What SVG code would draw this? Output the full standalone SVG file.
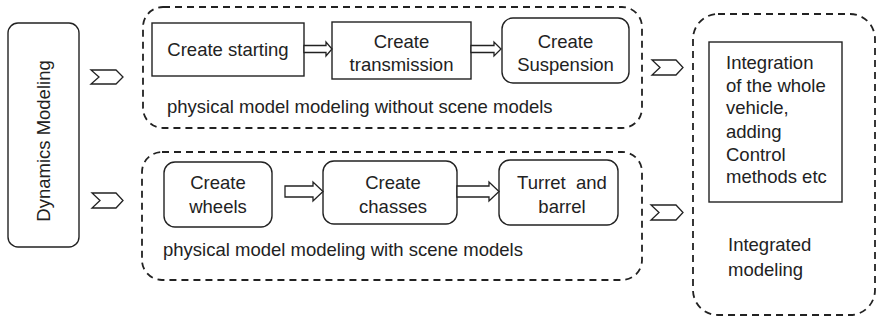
<svg xmlns="http://www.w3.org/2000/svg" width="877" height="321" viewBox="0 0 877 321">
<style>
text{font-family:"Liberation Sans",Arial,sans-serif;font-size:18.5px;fill:#222}
.c{text-anchor:middle}
.box{fill:#fff;stroke:#222;stroke-width:1.4}
.grp{fill:none;stroke:#222;stroke-width:1.8;stroke-dasharray:7 5}
.arr{fill:#fff;stroke:#222;stroke-width:1.3;stroke-linejoin:miter}
</style>
<rect width="877" height="321" fill="#fff"/>
<g id="group-top"><rect class="grp" x="143" y="7" width="499" height="121" rx="20"/>
<text x="167" y="113">physical model modeling without scene models</text></g>
<g id="group-bottom"><rect class="grp" x="142" y="152" width="500" height="128" rx="20"/>
<text x="163" y="256">physical model modeling with scene models</text></g>
<g id="group-integrated"><rect class="grp" x="693" y="14" width="182" height="301" rx="25"/>
<text x="728" y="251">Integrated</text>
<text x="728" y="276">modeling</text></g>
<g id="dynamics"><rect class="box" x="8" y="23" width="71" height="224" rx="10"/>
<text class="c" transform="translate(49.5,141) rotate(-90)">Dynamics Modeling</text></g>
<g id="starting"><rect class="box" x="152" y="23" width="152" height="53"/>
<text class="c" x="228" y="56">Create starting</text></g>
<g id="transmission"><rect class="box" x="332" y="22" width="139" height="57"/>
<text class="c" x="401.5" y="48">Create</text><text class="c" x="401.5" y="71">transmission</text></g>
<g id="suspension"><rect class="box" x="502" y="18" width="127" height="65" rx="11"/>
<text class="c" x="565.5" y="48">Create</text><text class="c" x="565.5" y="71">Suspension</text></g>
<g id="wheels"><rect class="box" x="164" y="162" width="108" height="65" rx="11"/>
<text class="c" x="218" y="189">Create</text><text class="c" x="218" y="213">wheels</text></g>
<g id="chasses"><rect class="box" x="323" y="161" width="134" height="63" rx="11"/>
<text class="c" x="393" y="189">Create</text><text class="c" x="393" y="213">chasses</text></g>
<g id="turret"><rect class="box" x="499" y="160" width="119" height="65" rx="11"/>
<text class="c" x="562" y="189" xml:space="preserve">Turret  and</text><text class="c" x="562" y="213">barrel</text></g>
<g id="integration"><rect class="box" x="709" y="42" width="133" height="160"/>
<text x="726" y="69">Integration</text>
<text x="726" y="92">of the whole</text>
<text x="726" y="114">vehicle,</text>
<text x="726" y="138">adding</text>
<text x="726" y="161">Control</text>
<text x="726" y="183">methods etc</text></g>
<g id="connectors">
<polygon class="arr" points="91,70 116,70 123,77 116,84 91,84 99,77"/>
<polygon class="arr" points="92,193 116,193 123,200.5 116,208 92,208 100,200.5"/>
<polygon class="arr" points="652,60 676,60 683,67.5 676,75 652,75 660,67.5"/>
<polygon class="arr" points="651,205 676,205 683,212.5 676,220 651,220 659,212.5"/>
<polygon class="arr" points="304,45.5 326,45.5 326,42 332,49 326,56 326,52.5 304,52.5"/>
<polygon class="arr" points="471,45.5 494,45.5 494,42 501,49 494,56 494,52.5 471,52.5"/>
<polygon class="arr" points="285,186 313,186 313,182 323,191.5 313,201 313,197 285,197"/>
<polygon class="arr" points="457,186 489,186 489,182 499,191.5 489,201 489,197 457,197"/>
</g>
</svg>
